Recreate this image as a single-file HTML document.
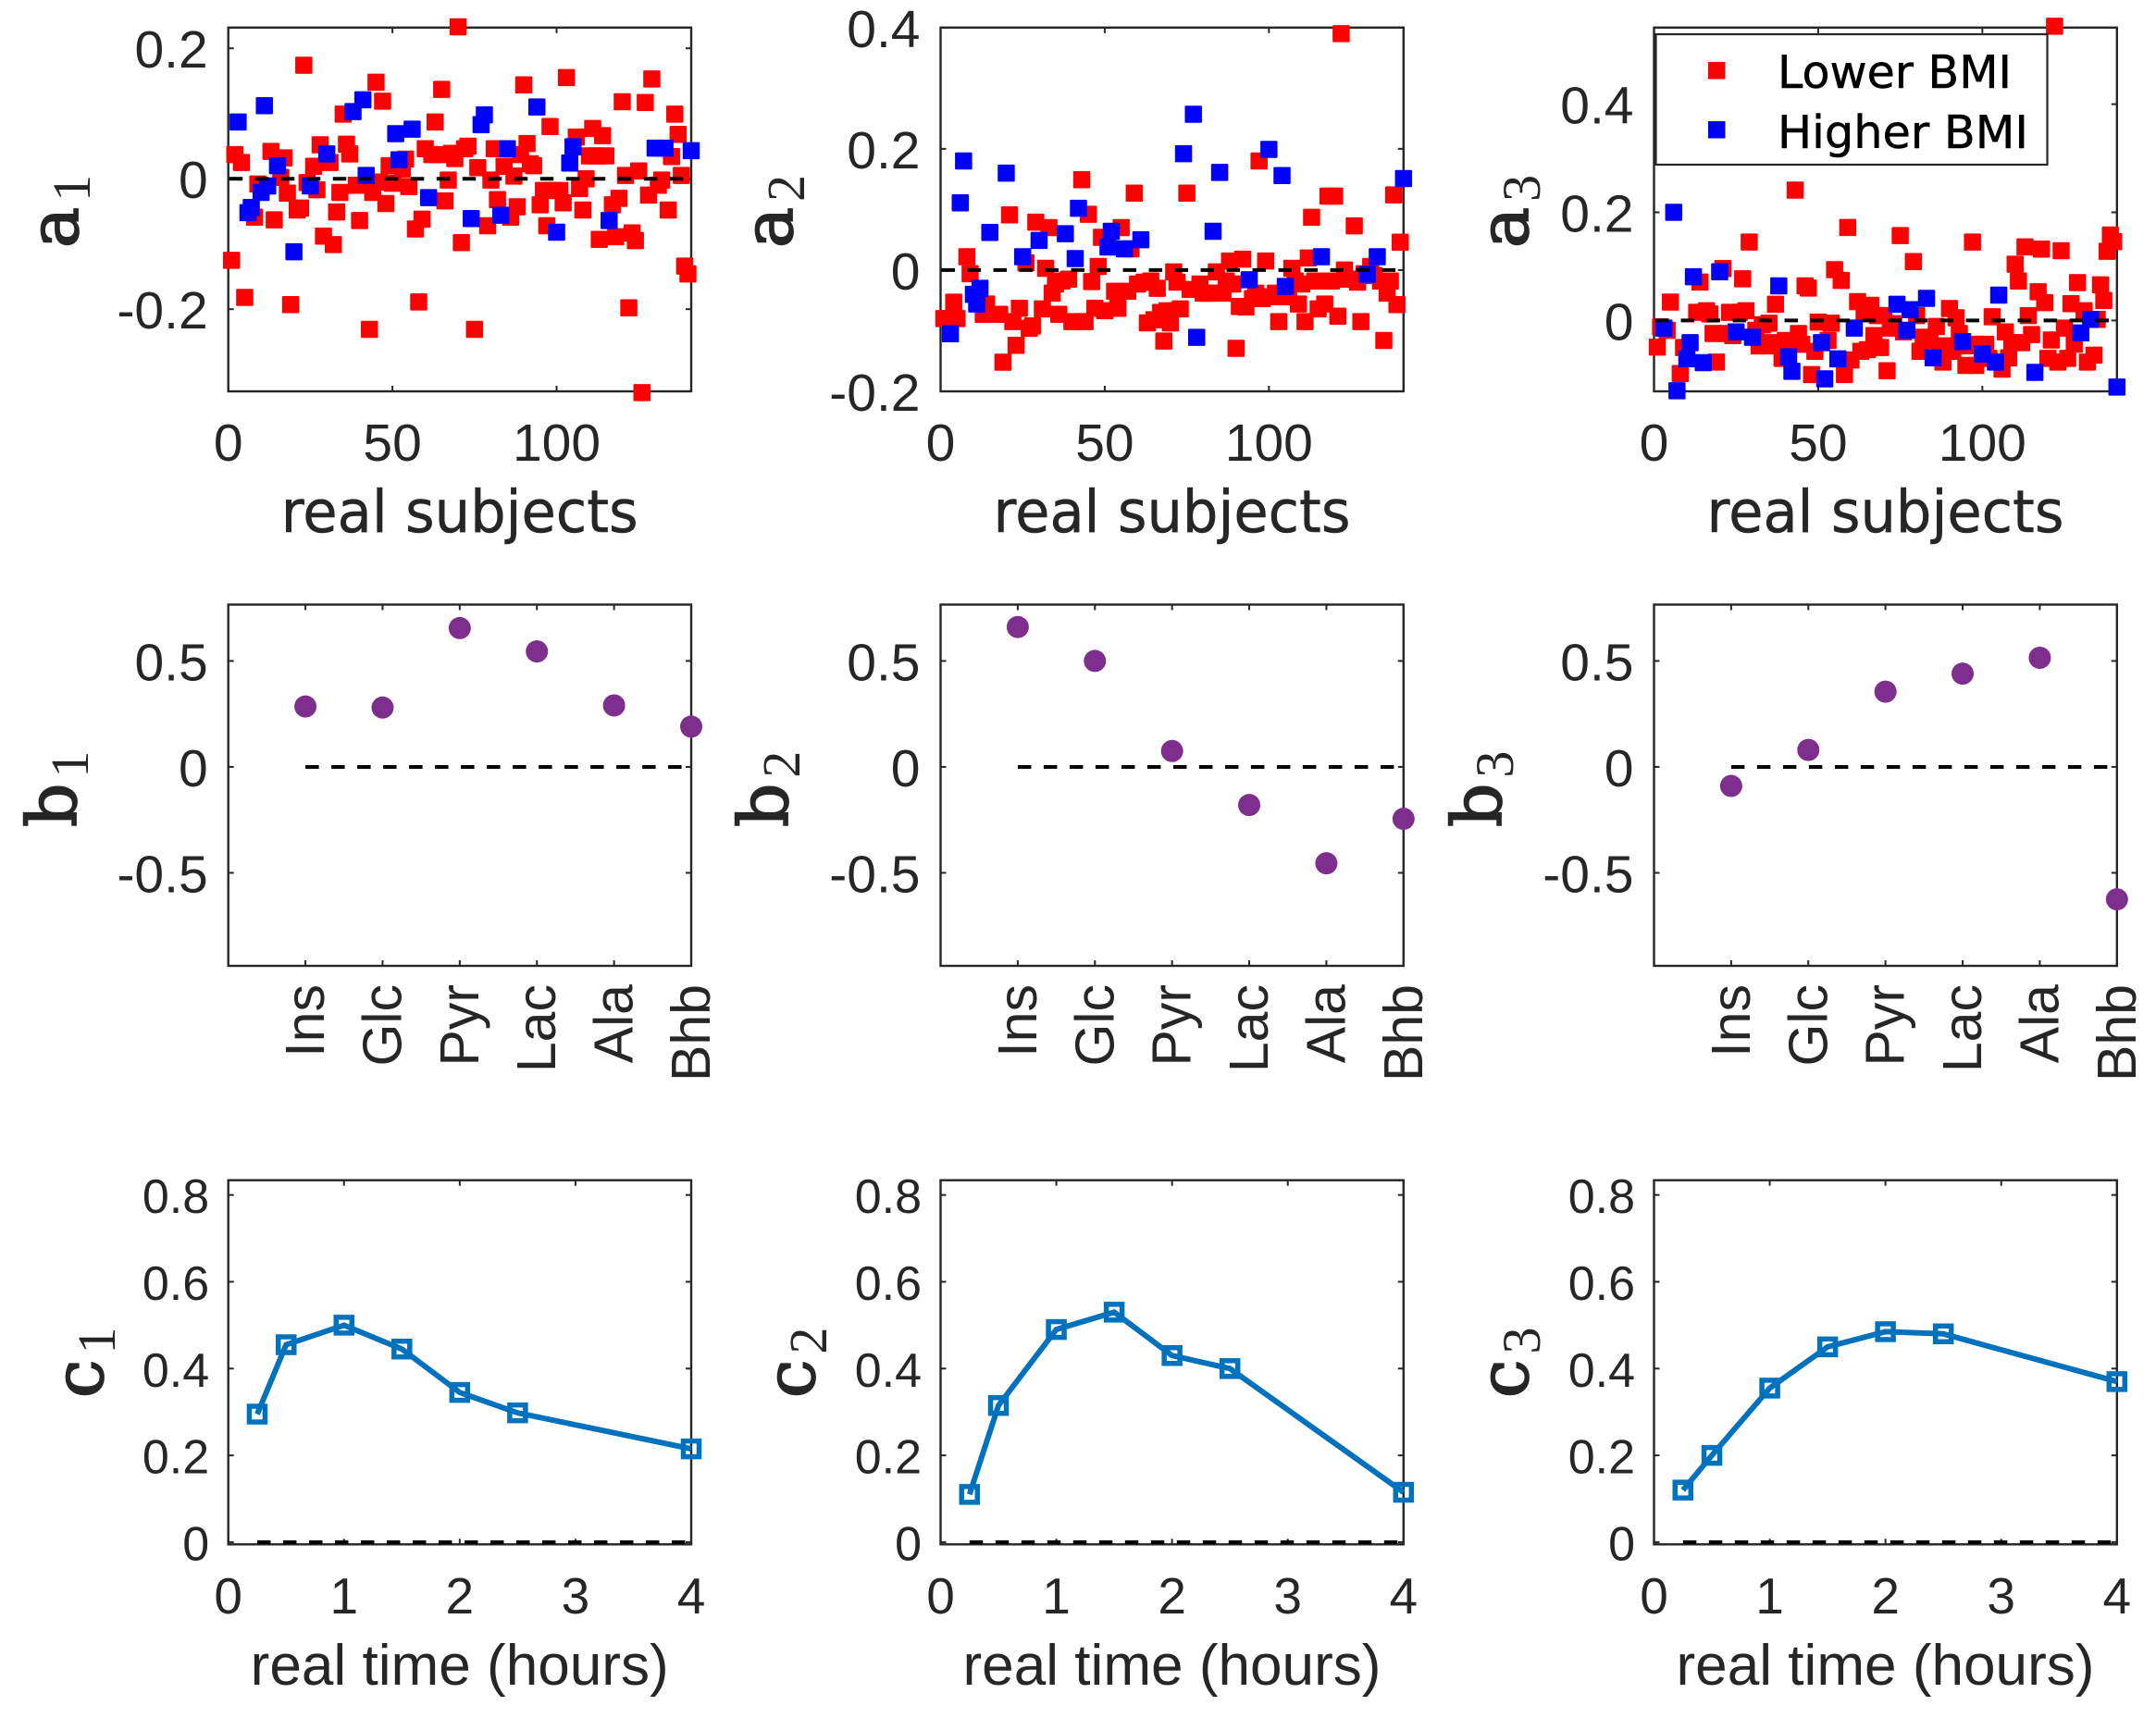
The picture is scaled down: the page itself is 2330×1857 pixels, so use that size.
<!DOCTYPE html>
<html lang="en">
<head>
<meta charset="utf-8">
<title>Subject, metabolite and time factors</title>
<style>
html,body{margin:0;padding:0;background:#fff;}
svg{display:block;}
.tick{font-family:"Liberation Sans",Arial,sans-serif;font-size:57px;fill:#262626;}
.tick-small{font-family:"Liberation Sans",Arial,sans-serif;font-size:52px;fill:#262626;}
.tick-mid{font-family:"Liberation Sans",Arial,sans-serif;font-size:55px;fill:#262626;}
.tick-cat{font-family:"Liberation Sans",Arial,sans-serif;font-size:59px;fill:#262626;}
.xlab-l{font-family:"DejaVu Sans",sans-serif;font-size:63px;fill:#262626;stroke:#262626;stroke-width:.5px;}
.xlab-h{font-family:"Liberation Sans",Arial,sans-serif;font-size:62px;fill:#262626;}
.ylab{font-family:"DejaVu Serif","Liberation Serif",serif;font-size:74px;fill:#262626;stroke:#262626;stroke-width:1.8px;}
.ysub{font-family:"Liberation Serif",serif;font-size:58px;fill:#262626;stroke:none;}
.leg{font-family:"DejaVu Sans",sans-serif;font-size:49px;fill:#000;stroke:#000;stroke-width:.5px;}
</style>
</head>
<body>
<svg id="fig" xmlns="http://www.w3.org/2000/svg" width="2330" height="1857" viewBox="0 0 2330 1857"></svg>
<script>
// ---- data ----
const lowerSubjects = [
1,2,4,5,8,9,13,14,16,17,
18,19,21,22,23,24,26,27,28,29,
31,32,33,34,35,36,37,39,40,43,
44,45,46,47,48,49,50,53,54,55,
57,58,59,60,62,63,64,65,66,67,
68,69,70,71,72,73,75,76,79,80,
81,82,84,86,87,88,89,90,91,92,
93,95,96,97,98,99,101,102,103,106,
107,108,109,110,111,112,113,114,115,117,
118,119,120,121,122,123,124,125,126,127,
128,129,131,132,134,135,136,137,138,139,
140];
const higherSubjects = [3,6,7,10,11,12,15,20,25,30,38,41,42,51,52,56,61,74,77,78,83,85,94,100,104,105,116,130,133,141];

const a1Lower = [
-.125,.037,.025,-.182,-.059,-.008,.042,-.063,.002,.032,
-.022,-.193,-.048,-.045,.174,-.006,.019,-.017,.052,-.088,
.025,-.101,-.051,-.021,.099,.053,.038,-.01,-.064,-.231,
-.021,.148,-.005,.119,-.038,.02,-.007,.015,.03,-.012,
-.077,-.189,-.062,.046,.037,.087,.037,.137,-.034,-.002,
.039,.031,.233,-.098,.046,.05,-.231,.017,-.072,-.002,
.046,-.032,.019,-.059,.004,-.043,.037,.144,.054,.023,
.02,-.04,-.018,-.072,.08,-.018,-.018,-.037,.155,.064,
-.015,-.048,0,.035,.077,.035,-.093,.066,.035,-.04,
-.089,-.03,.118,.005,-.198,-.083,-.095,.012,-.328,.117,
-.025,.153,-.01,-.002,-.048,.034,.099,.068,.005,-.134,
-.146];
const a1Higher = [.087,-.052,-.044,-.021,.112,-.011,.02,-.112,-.011,.038,.103,.121,.005,.069,.029,.076,-.029,-.061,.083,.098,-.056,.046,.11,-.082,.024,.049,-.064,.047,.047,.043];

const a2Lower = [
-.08,-.08,-.053,-.08,.022,-.006,-.073,-.056,-.073,-.073,
-.073,-.152,.091,-.085,-.124,-.063,.012,-.096,-.092,.079,
-.064,.003,.07,-.038,-.023,-.073,-.018,-.015,-.085,.149,
-.085,.092,-.019,-.063,.006,.054,-.067,-.035,-.063,.07,
-.035,.035,.127,-.023,-.02,-.087,-.018,-.082,-.03,-.07,
-.117,-.067,-.087,-.003,-.02,-.064,.127,-.032,-.023,-.038,
-.038,-.038,-.003,-.038,-.018,.015,-.023,-.129,-.06,.018,
-.061,-.047,-.038,.18,-.047,.015,-.044,-.038,-.085,-.044,
.003,-.018,-.056,-.023,-.085,.02,.087,-.018,-.064,-.056,
.122,-.018,.122,-.076,.39,0,-.015,-.015,.073,-.02,
-.085,-.006,.006,-.009,-.018,-.116,-.038,-.018,.124,-.057,
.046];
const a2Higher = [-.105,.111,.18,-.04,-.056,-.03,.062,.16,.022,.049,.06,.019,.102,.038,.064,.035,.05,.192,.257,-.111,.064,.161,-.016,.199,.156,-.027,.022,-.007,.022,.151];

const a3Lower = [
-.049,-.012,-.018,.034,-.098,-.05,.015,.071,.018,.012,
-.024,-.077,.096,-.024,.015,-.028,.015,.077,.018,.145,
-.018,-.047,-.008,-.047,-.005,-.041,.03,-.07,-.037,.241,
-.024,-.044,.064,.06,-.1,-.057,-.003,-.037,-.005,.094,
.074,-.1,.172,-.073,.035,-.057,.015,-.054,.028,-.028,
.009,-.05,.009,-.093,-.014,-.006,.157,-.021,.109,.009,
-.057,-.031,-.037,-.011,-.054,-.077,-.047,.022,-.057,.005,
-.024,-.083,-.047,.145,-.083,-.044,-.044,-.07,.007,-.09,
-.021,-.069,-.041,.104,.073,-.041,.136,.009,-.026,.053,
.132,.033,-.07,-.036,.544,-.077,.129,-.014,-.07,.031,
-.044,.07,.018,-.077,-.064,.002,.066,.037,.128,.158,
.146];
const a3Higher = [-.014,.2,-.13,-.071,-.041,.081,-.078,.09,-.021,-.031,.064,-.067,-.094,-.041,-.108,-.071,-.014,.03,-.018,.02,.041,-.069,-.039,-.062,-.077,.047,-.096,-.023,.002,-.123];

const metabolites = ["Ins","Glc","Pyr","Lac","Ala","Bhb"];
const b1Values = [.285,.28,.655,.545,.29,.19];
const b2Values = [.66,.5,.075,-.18,-.455,-.245];
const b3Values = [-.09,.08,.355,.44,.515,-.625];

const timeHours = [.25,.5,1,1.5,2,2.5,4];
const c1Values = [.295,.455,.5,.445,.345,.298,.215];
const c2Values = [.11,.315,.49,.53,.43,.40,.115];
const c3Values = [.12,.2,.355,.45,.485,.48,.37];

const subjectTicks = [0,50,100];
const a1Ticks = [-.2,0,.2];
const a2Ticks = [-.2,0,.2,.4];
const a3Ticks = [0,.2,.4];
const bTicks = [-.5,0,.5];
const cYTicks = [0,.2,.4,.6,.8];
const cXTicks = [0,1,2,3,4];
const a1Limits = [-.326,.2318];
const a2Limits = [-.2,.4];
const a3Limits = [-.131,.5416];
const bLimits = [-.939,.766];
const cLimits = [-.005,.834];

// ---- layout ----
const svg = document.getElementById('fig');
const NS = 'http://www.w3.org/2000/svg';
const colLeft = [246.7,1016.5,1787.5];
const axW = 500.3;
const rowA = {top:29.8,bottom:423};
const rowB = {top:653.5,bottom:1044};
const rowC = {top:1275.7,bottom:1669.3};
const INK = '#262626';

function make(tag, parent){ const n = document.createElementNS(NS, tag); parent.appendChild(n); return n; }
function setAll(n, o){ for(const k in o) n.setAttribute(k, o[k]); return n; }
function scale(d0,d1,p0,p1){ return v => p0 + (v-d0)*(p1-p0)/(d1-d0); }
function fmt(v){ return String(v); }

function frame(g, x0, x1, y0, y1){
  const r = make('rect', g);
  setAll(r,{x:x0,y:y0,width:x1-x0,height:y1-y0,fill:'none',stroke:INK,'stroke-width':2.4});
  
  
}
function xTicks(g, vals, sx, y0, y1){
  vals.forEach(v=>{
    [[y1,y1-6],[y0,y0+6]].forEach(p=>{
      const l = make('line', g);
      setAll(l,{x1:sx(v),x2:sx(v),y1:p[0],y2:p[1],stroke:INK,'stroke-width':2});
      
      
    });
  });
}
function yTicks(g, vals, sy, x0, x1, cls, gap, drop){
  vals.forEach(v=>{
    [[x0,x0+6],[x1,x1-6]].forEach(p=>{
      const l = make('line', g);
      setAll(l,{x1:p[0],x2:p[1],y1:sy(v),y2:sy(v),stroke:INK,'stroke-width':2});
      
      
    });
    const t = make('text', g);
    setAll(t,{class:cls,x:x0-gap,y:sy(v)+drop,'text-anchor':'end'});
    
    
    t.textContent = fmt(v);
  });
}
function xNumLabels(g, vals, sx, y, cls){
  vals.forEach(v=>{
    const t = make('text', g);
    setAll(t,{class:cls,x:sx(v),y:y,'text-anchor':'middle'});
    
    
    t.textContent = fmt(v);
  });
}
function yTitle(g, letter, sub, bx, by){
  const t = make('text', g);
  setAll(t,{class:'ylab',transform:'translate('+bx+','+by+') rotate(-90)'});
  
  
  const a = make('tspan', t);
  a.textContent = letter;
  const s = make('tspan', t);
  setAll(s,{class:'ysub',dy:13,dx:6});
  s.textContent = sub;
}
function xTitle(g, txt, cls, cx, y, len){
  const t = make('text', g);
  setAll(t,{class:cls,x:cx,y:y,'text-anchor':'middle',textLength:len,lengthAdjust:'spacingAndGlyphs'});
  
  
  t.textContent = txt;
}
function zeroLine(g, xa, xb, y){
  const l = make('line', g);
  setAll(l,{x1:xa,x2:xb,y1:y,y2:y,stroke:'#000','stroke-width':4,'stroke-dasharray':'14.5 13.5'});
  
  
}
function squares(g, xs, ys, sx, sy, color, name){
  xs.forEach((x,i)=>{
    const r = make('rect', g);
    setAll(r,{x:sx(x)-9.25,y:sy(ys[i])-9.25,width:18.5,height:18.5,rx:1,fill:color});
    
    
  });
}

// ---- row a: subject factors ----
const aPanels = [
  {low:a1Lower,high:a1Higher,lim:a1Limits,ticks:a1Ticks,sub:'1',bx:84},
  {low:a2Lower,high:a2Higher,lim:a2Limits,ticks:a2Ticks,sub:'2',bx:856},
  {low:a3Lower,high:a3Higher,lim:a3Limits,ticks:a3Ticks,sub:'3',bx:1651}
];
aPanels.forEach((p,i)=>{
  const g = make('g', svg);
  
  
  const x0 = colLeft[i], x1 = x0+axW, y0 = rowA.top, y1 = rowA.bottom;
  const sx = scale(0,141,x0,x1), sy = scale(p.lim[0],p.lim[1],y1,y0);
  frame(g,x0,x1,y0,y1);
  xTicks(g,subjectTicks,sx,y0,y1);
  yTicks(g,p.ticks,sy,x0,x1,'tick',22,21);
  xNumLabels(g,subjectTicks,sx,498,'tick');
  squares(g,lowerSubjects,p.low,sx,sy,'#ff0000','lower-bmi-point');
  squares(g,higherSubjects,p.high,sx,sy,'#0000ff','higher-bmi-point');
  zeroLine(g,sx(0.3),sx(140),sy(0));
  yTitle(g,'a',p.sub,p.bx,268);
  xTitle(g,'real subjects','xlab-l',x0+250,575,386);
});

// ---- row b: metabolite factors ----
const bPanels = [
  {vals:b1Values,sub:'1',bx:82},
  {vals:b2Values,sub:'2',bx:851},
  {vals:b3Values,sub:'3',bx:1622}
];
bPanels.forEach((p,i)=>{
  const g = make('g', svg);
  
  
  const x0 = colLeft[i], x1 = x0+axW, y0 = rowB.top, y1 = rowB.bottom;
  const sx = scale(0,6,x0,x1), sy = scale(bLimits[0],bLimits[1],y1,y0);
  frame(g,x0,x1,y0,y1);
  xTicks(g,metabolites.map((m,k)=>k+1),sx,y0,y1);
  yTicks(g,bTicks,sy,x0,x1,'tick',22,21);
  metabolites.forEach((m,k)=>{
    const t = make('text', g);
    setAll(t,{class:'tick-cat','text-anchor':'end',transform:'translate('+(sx(k+1)+20)+',1064) rotate(-90)'});
    
    
    t.textContent = m;
  });
  zeroLine(g,sx(1),sx(6),sy(0));
  p.vals.forEach((v,k)=>{
    const c = make('circle', g);
    setAll(c,{cx:sx(k+1),cy:sy(v),r:12,fill:'#7e2f8e'});
    
    
  });
  yTitle(g,'b',p.sub,p.bx,894);
});

// ---- row c: time factors ----
const cPanels = [
  {vals:c1Values,sub:'1',bx:111},
  {vals:c2Values,sub:'2',bx:880},
  {vals:c3Values,sub:'3',bx:1651}
];
cPanels.forEach((p,i)=>{
  const g = make('g', svg);
  
  
  const x0 = colLeft[i], x1 = x0+axW, y0 = rowC.top, y1 = rowC.bottom;
  const sx = scale(0,4,x0,x1), sy = scale(cLimits[0],cLimits[1],y1,y0);
  frame(g,x0,x1,y0,y1);
  xTicks(g,cXTicks,sx,y0,y1);
  yTicks(g,cYTicks,sy,x0,x1,'tick-small',20.5,19.5);
  xNumLabels(g,cXTicks,sx,1744,'tick-mid');
  zeroLine(g,sx(.25),sx(4),sy(0));
  const pl = make('polyline', g);
  setAll(pl,{points:timeHours.map((h,k)=>sx(h)+','+sy(p.vals[k])).join(' '),fill:'none',stroke:'#0072bd','stroke-width':6});
  
  
  timeHours.forEach((h,k)=>{
    const r = make('rect', g);
    setAll(r,{x:sx(h)-8.5,y:sy(p.vals[k])-8.5,width:17,height:17,fill:'none',stroke:'#0072bd','stroke-width':5.5});
    
    
  });
  yTitle(g,'c',p.sub,p.bx,1511);
  xTitle(g,'real time (hours)','xlab-h',x0+250,1821,452);
});

// ---- legend ----
const legend = make('g', svg);


const legBox = make('rect', legend);
setAll(legBox,{x:1789.5,y:37,width:423,height:141,fill:'#fff',stroke:INK,'stroke-width':2.2});


const legendEntries = ['Lower BMI','Higher BMI'];
const legendColors = ['#ff0000','#0000ff'];
legendEntries.forEach((label,i)=>{
  const cy = 76 + i*64;
  const m = make('rect', legend);
  setAll(m,{x:1846,y:cy-9,width:18.5,height:18.5,fill:legendColors[i]});
  
  
  const t = make('text', legend);
  setAll(t,{class:'leg',x:1921,y:95+i*65,textLength:i?271:253,lengthAdjust:'spacingAndGlyphs'});
  
  
  t.textContent = label;
});
</script>
</body>
</html>
